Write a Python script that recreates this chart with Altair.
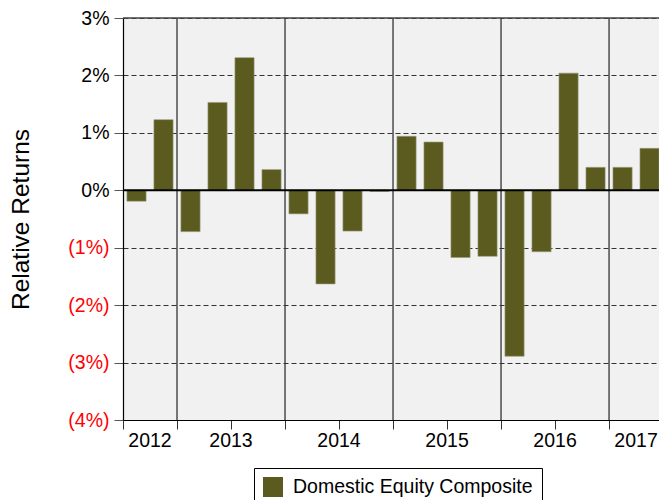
import altair as alt
import pandas as pd

years = [2012, 2012, 2013, 2013, 2013, 2013, 2014, 2014, 2014, 2014,
         2015, 2015, 2015, 2015, 2016, 2016, 2016, 2016, 2017, 2017]
quarters = [3, 4, 1, 2, 3, 4, 1, 2, 3, 4, 1, 2, 3, 4, 1, 2, 3, 4, 1, 2]
returns = [-0.19, 1.23, -0.72, 1.53, 2.31, 0.36, -0.41, -1.63, -0.71, -0.02,
           0.94, 0.84, -1.17, -1.15, -2.89, -1.07, 2.04, 0.40, 0.40, 0.73]
series_name = "Domestic Equity Composite"
y_ticks = [-4, -3, -2, -1, 0, 1, 2, 3]

FONT = "Liberation Sans"
BAR = "#5b5b1f"
# the reference chart runs just past the right edge of the window
X_END = 19.85
W, H = 536, 402

df = pd.DataFrame({"year": years, "quarter": quarters, "ret": returns})
df["idx"] = list(range(len(df)))
df["series"] = series_name

xscale = alt.Scale(domain=[0, X_END], nice=False, zero=False)
yscale = alt.Scale(domain=[y_ticks[0], y_ticks[-1]], nice=False)

base = alt.Chart(df)

year_rules = base.transform_filter("datum.quarter == 1").mark_rule(
    color="#333", strokeWidth=1.3
).encode(x=alt.X("idx:Q", scale=xscale))

bars = base.transform_calculate(
    x0="datum.idx + 0.145", x1="datum.idx + 0.855", z="0"
).mark_bar(stroke="#9a9a7a", strokeWidth=0.6, clip=True).encode(
    x=alt.X("x0:Q", scale=xscale,
            axis=alt.Axis(values=list(range(len(df))), labels=False, tickSize=9,
                          tickColor="#333", domainColor="#000", domainWidth=1.2,
                          grid=False, title=None)),
    x2="x1:Q",
    y=alt.Y("ret:Q", scale=yscale,
            axis=alt.Axis(values=y_ticks, title="Relative Returns",
                          labelExpr="datum.value < 0 ? '(' + abs(datum.value) + '%)' : datum.value + '%'",
                          labelColor=alt.condition("datum.value < 0", alt.value("#ff0000"), alt.value("#000000")),
                          labelFontSize=19.5, labelFont=FONT, labelPadding=5,
                          tickSize=9, tickColor="#555", domainColor="#000", domainWidth=1.2,
                          grid=True, gridColor="#333", gridDash=[5, 3], gridWidth=1,
                          titleFont=FONT, titleFontSize=24.5, titleFontWeight="normal",
                          titleColor="#000", titlePadding=34)),
    y2="z:Q",
    color=alt.Color("series:N", scale=alt.Scale(range=[BAR]),
                    legend=alt.Legend(title=None, orient="none", legendX=131, legendY=450,
                                      symbolType="square", symbolSize=400, symbolStrokeWidth=0,
                                      labelFontSize=19.5, labelFont=FONT, labelColor="#000",
                                      labelOffset=10, labelLimit=400,
                                      strokeColor="#000", fillColor="white", padding=9)),
)

zero_rule = alt.Chart(pd.DataFrame({"z": [0]})).mark_rule(
    color="#000", strokeWidth=2
).encode(y=alt.Y("z:Q", scale=yscale))

top_rule = alt.Chart(pd.DataFrame({"t": [y_ticks[-1]]})).mark_rule(
    color="#444", strokeWidth=1.5
).encode(y=alt.Y("t:Q", scale=yscale))

year_labels = base.transform_aggregate(
    lo="min(idx)", hi="max(idx)", groupby=["year"]
).transform_calculate(
    mid="(datum.lo + datum.hi + 1) / 2"
).mark_text(fontSize=19.5, font=FONT, color="#000", baseline="middle").encode(
    x=alt.X("mid:Q", scale=xscale),
    y=alt.value(H + 21),
    text="year:N",
)

chart = alt.layer(year_rules, bars, zero_rule, top_rule, year_labels).properties(
    width=W, height=H,
    autosize=alt.AutoSizeParams(type="none"),
    padding={"left": 115, "top": 10, "right": 0, "bottom": 90},
).configure_view(fill="#f1f1f1", strokeWidth=0)

chart.save("out.html", embed_options={"renderer": "svg", "actions": False})
